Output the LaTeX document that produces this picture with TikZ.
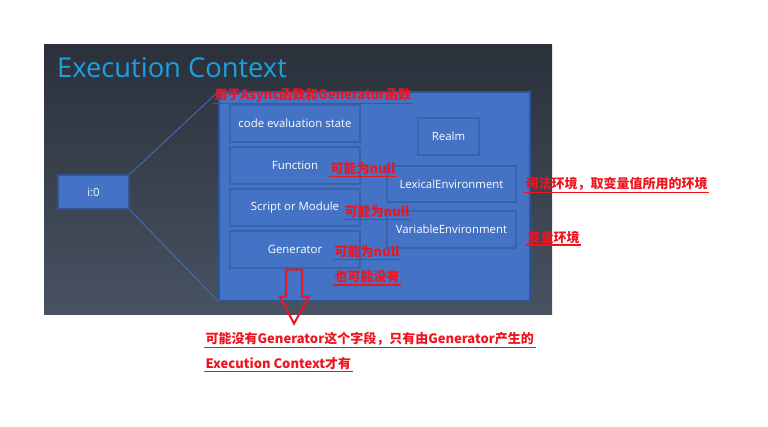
\documentclass[tikz,border=0pt]{standalone}
\usepackage{fontspec}
\setsansfont{Open Sans}
\newfontfamily\cjk{Noto Sans CJK SC}
\usetikzlibrary{calc}
\definecolor{panetop}{HTML}{2B313B}
\definecolor{panebot}{HTML}{485261}
\definecolor{boxblue}{HTML}{4472C4}
\definecolor{boxline}{HTML}{2F5597}
\definecolor{fldline}{HTML}{3A62AA}
\definecolor{titleblue}{HTML}{1BA1E2}
\definecolor{notered}{HTML}{F0141E}
\tikzset{line width=1pt,
  every node/.style={font=\sffamily\fontsize{11.4}{13}\selectfont},
  box/.style={draw=boxline,fill=boxblue,text=white,inner sep=0pt,line width=1.2pt},
  fld/.style={box,draw=fldline,minimum width=130pt,minimum height=37pt},
  wire/.style={draw=boxblue,line width=.8pt},
  note/.style={anchor=west,text=notered,inner sep=1.5pt,
    font=\cjk\bfseries\fontsize{13}{15}\selectfont,
    append after command={(\tikzlastnode.south west) edge[notered,line width=1.2pt] (\tikzlastnode.south east)}},
  hollow/.style={draw=notered,line width=2pt,line join=miter}}
\begin{document}
\begin{tikzpicture}[x=1pt,y=-1pt]
\useasboundingbox[fill=white](0,0)rectangle(768,427);
\shade[top color=panetop,bottom color=panebot](44,45)rectangle(552,315);
\node[anchor=west,text=titleblue,inner sep=0pt,font=\sffamily\fontsize{27.3}{32}\selectfont](title)at(57,68){Execution Context};
\node[box,minimum width=71pt,minimum height=34pt](i0)at(93.5,192){i:0};
\node[box,minimum width=311pt,minimum height=209pt](ec)at(374.5,196.5){};
\draw[wire](i0.north east)--(ec.north west);\draw[wire](i0.south east)--(ec.south west);
\node[fld](ces)at(295,123.5){code evaluation state};
\node[fld](fn)at(295,165.5){Function};
\node[fld](som)at(295,207.5){Script or Module};
\node[fld](gen)at(295,249.5){Generator};
\node[fld,minimum width=61pt](realm)at(448.5,136.5){Realm};
\node[fld,minimum width=129pt,minimum height=36pt](lex)at(451.5,184){LexicalEnvironment};
\node[fld,minimum width=129pt](var)at(451.5,229.5){VariableEnvironment};
\node[note](asyncnote)at(213,95){用于Async函数和Generator函数};
\node[note](fnnote)at(329,169){可能为null};
\node[note](somnote)at(343,212){可能为null};
\node[note](gennote)at(333,252){可能为null};
\node[note](gennote2)at(333,277){也可能没有};
\node[note](lexnote)at(524,184){词法环境，取变量值所用的环境};
\node[note](varnote)at(526,237){变量环境};
\node[note](bottomnote)at(204,339){可能没有Generator这个字段，只有由Generator产生的};
\node[note](bottomnote2)at(204,364){Execution Context才有};
\coordinate(arrtop)at($(gen.south)+(-1,1)$);
\draw[hollow]($(arrtop)+(-8,0)$)--($(arrtop)+(8,0)$)--($(arrtop)+(8,27)$)--($(arrtop)+(15,27)$)
  --($(arrtop)+(0,54)$)--($(arrtop)+(-14,27)$)--($(arrtop)+(-8,27)$)--cycle;
\end{tikzpicture}
\end{document}
